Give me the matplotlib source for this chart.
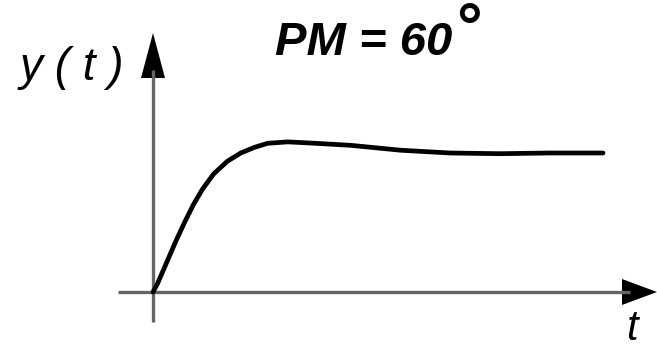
import matplotlib
matplotlib.use("Agg")
import matplotlib.pyplot as plt

# Step response (time in arbitrary units, output normalised to 1)
t_vals = [0, 0.1, 0.3, 0.5, 0.7, 0.9, 1.1, 1.35, 1.65, 1.95, 2.25, 2.55,
          3.0, 3.6, 4.4, 5.5, 6.6, 7.7, 8.8, 10]
y_vals = [0, 0.06, 0.21, 0.36, 0.5, 0.63, 0.74, 0.85, 0.94, 1.0, 1.04, 1.07,
          1.08, 1.07, 1.055, 1.02, 1.0, 0.995, 1.0, 1.0]

title_text = "PM = 60"
ylabel_text = "y ( t )"
xlabel_text = "t"

W, H = 657, 350

fig = plt.figure(figsize=(W / 100, H / 100), dpi=100)
ax = fig.add_axes([0, 0, 1, 1])
ax.set_axis_off()

# pixel -> data mapping: origin at (153, 292), 45 px per time unit, 139 px per unit output
x0, y0, sx, sy = 153, 292, 45.0, 139.0


def dx(p):
    return (p - x0) / sx


def dy(p):
    return (y0 - p) / sy


ax.set_xlim(dx(0), dx(W))
ax.set_ylim(dy(H), dy(0))

axis_col = "#666666"
# horizontal axis with arrow head
ax.plot([dx(118), dx(630)], [0, 0], color=axis_col, lw=2.4, solid_capstyle="butt")
ax.fill([dx(622), dx(657), dx(622)], [dy(279), 0, dy(305)], color="black", lw=0)
# vertical axis with arrow head
ax.plot([0, 0], [dy(322), dy(70)], color=axis_col, lw=2.4, solid_capstyle="butt")
ax.fill([dx(141), 0, dx(165)], [dy(78), dy(33), dy(78)], color="black", lw=0)

# response curve
ax.plot(t_vals, y_vals, color="black", lw=3.4, solid_joinstyle="round",
        solid_capstyle="round")

fam = ["Liberation Sans", "DejaVu Sans"]
bold = dict(family=fam, style="italic", weight="bold", color="black")
light = dict(family=fam, style="italic", weight="normal", color="black")

fig.text(275 / W, 1 - 55 / H, title_text, fontsize=34, ha="left",
         va="baseline", **bold)
fig.text(453 / W, 1 - 48 / H, "°", fontsize=46, ha="left", va="baseline",
         **bold)
fig.text(20 / W, 1 - 80 / H, ylabel_text, fontsize=33, ha="left",
         va="baseline", **light)
fig.text(626 / W, 1 - 349 / H, xlabel_text, fontsize=30, ha="left",
         va="bottom", **light)

fig.savefig("out.png", dpi=100, facecolor="white")
